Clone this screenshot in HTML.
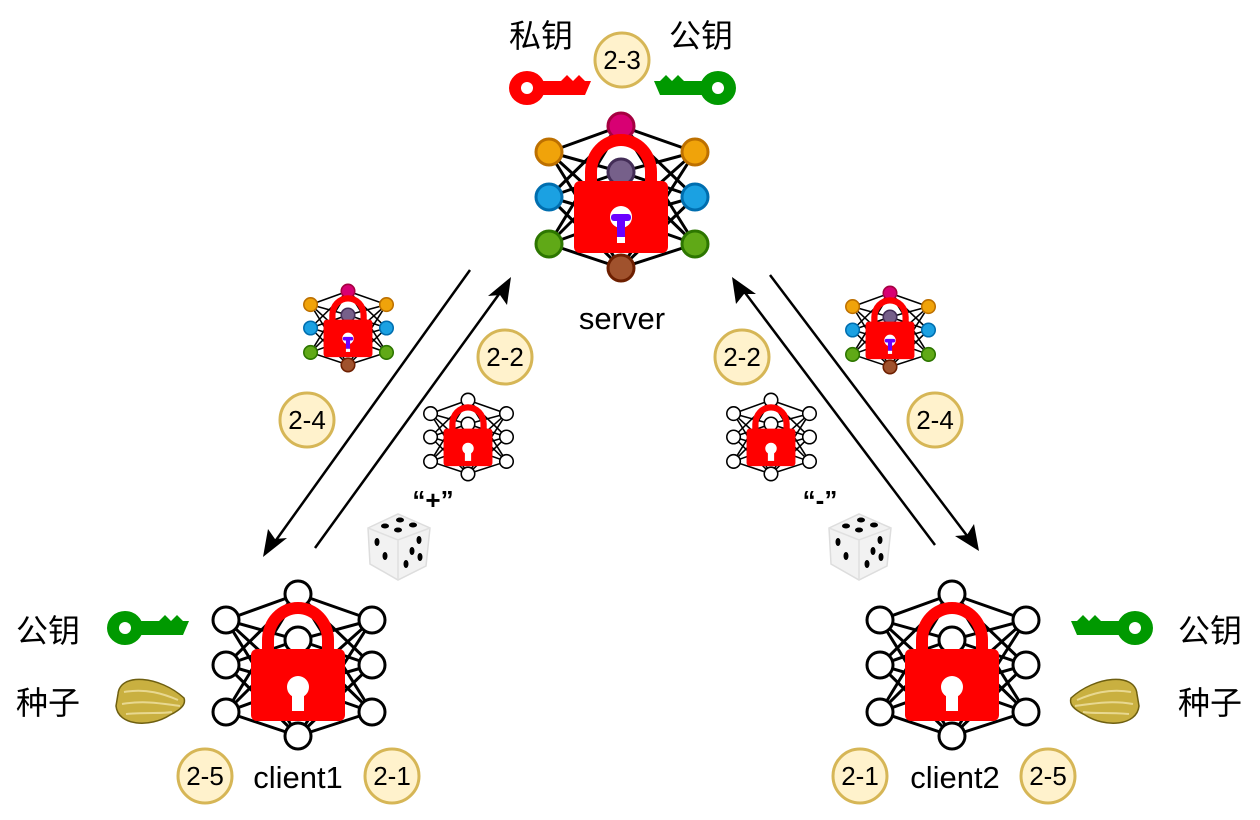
<!DOCTYPE html>
<html><head><meta charset="utf-8"><style>
html,body{margin:0;padding:0;background:#fff;}
svg{display:block;}
text{font-family:"Liberation Sans","Noto Sans CJK SC",sans-serif;}
</style></head><body>
<svg width="1260" height="820" viewBox="0 0 1260 820" xmlns="http://www.w3.org/2000/svg">
<defs>
  <g id="edges" stroke="#000" stroke-width="3" fill="none">
    <path d="M-72,-45L0,-71M-72,-45L0,-25M-72,-45L0,21M-72,-45L0,71
             M-72,0L0,-71M-72,0L0,-25M-72,0L0,21M-72,0L0,71
             M-72,47L0,-71M-72,47L0,-25M-72,47L0,21M-72,47L0,71
             M74,-45L0,-71M74,-45L0,-25M74,-45L0,21M74,-45L0,71
             M74,0L0,-71M74,0L0,-25M74,0L0,21M74,0L0,71
             M74,47L0,-71M74,47L0,-25M74,47L0,21M74,47L0,71"/>
  </g>
  <g id="lock">
    <path d="M-36,-14 V-25 A36,38 0 0 1 36,-25 V-14 H24 V-25 A24,26 0 0 0 -24,-25 V-14 Z" fill="#f00"/>
    <rect x="-47" y="-16" width="94" height="72" rx="6" fill="#f00"/>
  </g>
  <g id="wnet">
    <use href="#edges"/>
    <g fill="#fff" stroke="#000" stroke-width="3">
      <circle cx="-72" cy="-45" r="13"/><circle cx="-72" cy="0" r="13"/><circle cx="-72" cy="47" r="13"/>
      <circle cx="74" cy="-45" r="13"/><circle cx="74" cy="0" r="13"/><circle cx="74" cy="47" r="13"/>
      <circle cx="0" cy="-71" r="13"/><circle cx="0" cy="-25" r="13"/><circle cx="0" cy="21" r="13"/><circle cx="0" cy="71" r="13"/>
    </g>
    <use href="#lock"/>
    <circle cx="0" cy="22" r="11" fill="#fff"/>
    <rect x="-6" y="22" width="12" height="24" fill="#fff"/>
  </g>
  <g id="cnet">
    <use href="#edges"/>
    <g stroke-width="3">
      <circle cx="-72" cy="-45" r="13" fill="#f0a30a" stroke="#bd7000"/><circle cx="-72" cy="0" r="13" fill="#1ba1e2" stroke="#006eaf"/><circle cx="-72" cy="47" r="13" fill="#60a917" stroke="#2d7600"/>
      <circle cx="74" cy="-45" r="13" fill="#f0a30a" stroke="#bd7000"/><circle cx="74" cy="0" r="13" fill="#1ba1e2" stroke="#006eaf"/><circle cx="74" cy="47" r="13" fill="#60a917" stroke="#2d7600"/>
      <circle cx="0" cy="-71" r="13" fill="#d80073" stroke="#a50040"/><circle cx="0" cy="-25" r="13" fill="#76608a" stroke="#432d57"/><circle cx="0" cy="71" r="13" fill="#a0522d" stroke="#6d1f00"/>
    </g>
    <use href="#lock"/>
    <circle cx="0" cy="20" r="11" fill="#fff"/>
    <rect x="-10" y="17" width="20" height="7" rx="3" fill="#6a00ff"/>
    <rect x="-4" y="18" width="8" height="22" fill="#6a00ff"/>
    <rect x="-4" y="40" width="8" height="6" fill="#fff"/>
  </g>
  <g id="key">
    <ellipse cx="0" cy="0" rx="18" ry="17"/>
    <path d="M12,-7 H34 L40,-13 L46,-7 L52,-13 L58,-7 L64,-7 L58,7 H12 Z"/>
  </g>
  <g id="badge">
    <circle r="27" fill="#fff2cc" stroke="#d6b656" stroke-width="3"/>
  </g>
  <g id="dice">
    <path d="M-30,-18 L0,-32 L32,-18 L28,20 L0,34 L-28,18 Z" fill="#f2f2f2" stroke="#ddd" stroke-width="1.5"/>
    <path d="M-30,-18 L0,-6 L32,-18 M0,-6 L0,34" stroke="#e0e0e0" stroke-width="1.5" fill="none"/>
    <g fill="#000">
      <ellipse cx="-13" cy="-20" rx="4" ry="2.5"/><ellipse cx="0" cy="-16" rx="4" ry="2.5"/><ellipse cx="15" cy="-21" rx="4" ry="2.5"/><ellipse cx="2" cy="-26" rx="4" ry="2.5"/>
      <ellipse cx="-21" cy="-4" rx="2.5" ry="4"/><ellipse cx="-13" cy="10" rx="2.5" ry="4"/>
      <ellipse cx="21" cy="-6" rx="2.5" ry="4"/><ellipse cx="14" cy="5" rx="2.5" ry="4"/><ellipse cx="8" cy="18" rx="2.5" ry="4"/><ellipse cx="22" cy="11" rx="2.5" ry="4"/>
    </g>
  </g>
  <g id="seed">
    <path d="M-32,-8 C-30,-30 10,-26 34,-4 C36,2 32,7 20,13 C0,26 -32,24 -34,4 Z" fill="#c9b040" stroke="#6e5f10" stroke-width="1.5"/>
    <path d="M-26,-10 C-4,-14 14,-8 28,-2 M-28,2 C-4,-2 14,2 30,4 M-24,12 C0,10 10,12 22,10" stroke="#e8d890" stroke-width="2" fill="none"/>
  </g>
</defs>

<!-- arrows -->
<g stroke="#000" stroke-width="2.5" fill="none">
  <line x1="315" y1="548" x2="502" y2="290"/>
  <line x1="470" y1="270" x2="274" y2="543"/>
  <line x1="935" y1="545" x2="743" y2="290"/>
  <line x1="770" y1="275" x2="968" y2="537"/>
</g>
<g fill="#000">
  <path d="M511,277 L507,305 L500,295 L488,296 Z"/>
  <path d="M263,557 L268,529 L275,539 L287,538 Z"/>
  <path d="M732,277 L756,294 L744,294 L736,304 Z"/>
  <path d="M979,551 L955,536 L967,535 L974,524 Z"/>
</g>

<!-- networks -->
<use href="#cnet" transform="translate(621,197)"/>
<use href="#cnet" transform="translate(348,328) scale(0.52)"/>
<use href="#cnet" transform="translate(890,330) scale(0.52)"/>
<use href="#wnet" transform="translate(468,437) scale(0.52)"/>
<use href="#wnet" transform="translate(771,437) scale(0.52)"/>
<use href="#wnet" transform="translate(298,665)"/>
<use href="#wnet" transform="translate(952,665)"/>

<!-- keys -->
<g fill="#f00"><use href="#key" transform="translate(527,88)"/></g>
<circle cx="527" cy="88" r="6" fill="#fff"/>
<g fill="#009900"><use href="#key" transform="translate(718,88) scale(-1,1)"/></g>
<circle cx="718" cy="88" r="6" fill="#fff"/>
<g fill="#009900"><use href="#key" transform="translate(125,628)"/></g>
<circle cx="125" cy="628" r="6" fill="#fff"/>
<g fill="#009900"><use href="#key" transform="translate(1135,628) scale(-1,1)"/></g>
<circle cx="1135" cy="628" r="6" fill="#fff"/>

<use href="#seed" transform="translate(150,702)"/>
<use href="#seed" transform="translate(1105,702) scale(-1,1)"/>
<use href="#dice" transform="translate(398,546)"/>
<use href="#dice" transform="translate(859,546)"/>

<!-- badges -->
<use href="#badge" transform="translate(622,60)"/>
<use href="#badge" transform="translate(505,357)"/>
<use href="#badge" transform="translate(307,420)"/>
<use href="#badge" transform="translate(742,357)"/>
<use href="#badge" transform="translate(935,420)"/>
<use href="#badge" transform="translate(205,776)"/>
<use href="#badge" transform="translate(392,776)"/>
<use href="#badge" transform="translate(860,776)"/>
<use href="#badge" transform="translate(1048,776)"/>
<g font-size="26" text-anchor="middle" fill="#000">
  <text x="622" y="69">2-3</text>
  <text x="505" y="366">2-2</text>
  <text x="307" y="429">2-4</text>
  <text x="742" y="366">2-2</text>
  <text x="935" y="429">2-4</text>
  <text x="205" y="785">2-5</text>
  <text x="392" y="785">2-1</text>
  <text x="860" y="785">2-1</text>
  <text x="1048" y="785">2-5</text>
</g>

<g font-size="32" text-anchor="middle" fill="#000">
  <text x="541" y="47">私钥</text>
  <text x="701" y="47">公钥</text>
  <text x="48" y="642">公钥</text>
  <text x="48" y="714">种子</text>
  <text x="1210" y="642">公钥</text>
  <text x="1210" y="714">种子</text>
</g>
<g font-size="31" text-anchor="middle" fill="#000">
  <text x="622" y="329">server</text>
  <text x="298" y="788">client1</text>
  <text x="955" y="788">client2</text>
</g>
<g font-size="26" font-weight="bold" text-anchor="middle" fill="#000">
  <text x="433" y="509">“+”</text>
  <text x="820" y="509">“-”</text>
</g>
</svg>
</body></html>
